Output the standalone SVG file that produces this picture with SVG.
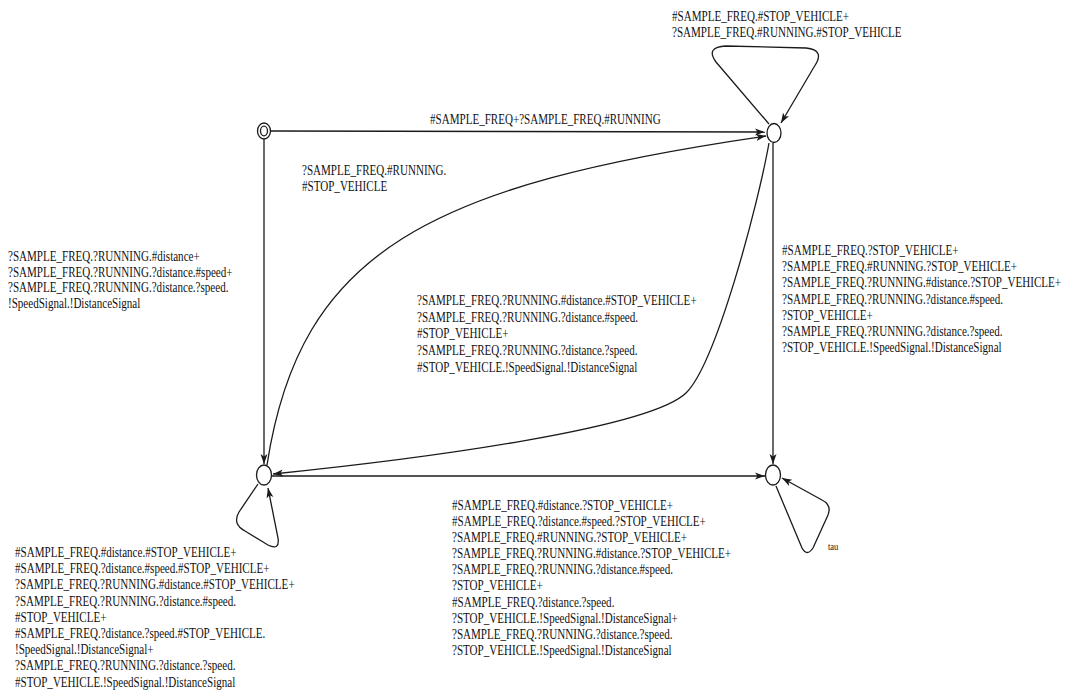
<svg xmlns="http://www.w3.org/2000/svg" width="1068" height="692" viewBox="0 0 1068 692">
<style>
.bg{fill:#ffffff}
.st{fill:#ffffff;stroke:#1a1a1a;stroke-width:1.3}
.e{fill:none;stroke:#1a1a1a;stroke-width:1.3}
.a{marker-end:url(#arr)}
.lbl{font-family:"Liberation Serif","Times New Roman",serif;font-size:14px;fill:#111}
.tau{font-family:"Liberation Serif","Times New Roman",serif;font-size:10px;fill:#111}
</style>
<defs>
<marker id="arr" markerUnits="userSpaceOnUse" markerWidth="12" markerHeight="8" refX="10" refY="4" orient="auto">
<path d="M0,0.5 L10,4 L0,7.5 L2.5,4 z" fill="#1a1a1a"/>
</marker>
</defs>
<rect class="bg" x="0" y="0" width="1068" height="692"/>
<g id="connectors">
<line class="e a" x1="271" y1="131" x2="765" y2="132"/>
<line class="e a" x1="264" y1="139" x2="264" y2="464"/>
<path class="e a" d="M267,465 C300,250 430,185 766,136"/>
<path class="e a" d="M769,143 C758,205 716,364 686,393 C650,428 430,458 273,474"/>
<line class="e a" x1="773" y1="143" x2="773" y2="464"/>
<line class="e a" x1="272" y1="476" x2="765" y2="476"/>
<path class="e a" d="M769,124 L716,62 Q705,47 726,46 L806,48 Q826,50 814,67 L781,123"/>
<path class="e a" d="M258,484 L239,512 Q232,524 245,531 L268,545 Q280,551 278,538 L268,488"/>
<path class="e a" d="M776,486 L802,548 Q807,557 813,548 L828,515 Q832,505 822,500 L782,478"/>
</g>
<g id="node-init">
<ellipse class="st" cx="264" cy="131" rx="6.5" ry="8"/>
<ellipse class="st" cx="264" cy="131" rx="3.5" ry="4.8"/>
</g>
<g id="node-tr"><ellipse class="st" cx="774" cy="133" rx="7" ry="9.5"/></g>
<g id="node-bl"><ellipse class="st" cx="264" cy="475" rx="7.5" ry="10"/></g>
<g id="node-br"><ellipse class="st" cx="773" cy="475" rx="7.5" ry="10"/></g>
<g id="labels">
<text class="lbl" transform="translate(672,21) scale(0.79,1)"><tspan x="0" y="0">#SAMPLE_FREQ.#STOP_VEHICLE+</tspan><tspan x="0" dy="16">?SAMPLE_FREQ.#RUNNING.#STOP_VEHICLE</tspan></text>
<text class="lbl" transform="translate(430,124) scale(0.79,1)"><tspan x="0" y="0">#SAMPLE_FREQ+?SAMPLE_FREQ.#RUNNING</tspan></text>
<text class="lbl" transform="translate(302,175) scale(0.79,1)"><tspan x="0" y="0">?SAMPLE_FREQ.#RUNNING.</tspan><tspan x="0" dy="16">#STOP_VEHICLE</tspan></text>
<text class="lbl" transform="translate(8,261) scale(0.79,1)"><tspan x="0" y="0">?SAMPLE_FREQ.?RUNNING.#distance+</tspan><tspan x="0" dy="15.7">?SAMPLE_FREQ.?RUNNING.?distance.#speed+</tspan><tspan x="0" dy="15.7">?SAMPLE_FREQ.?RUNNING.?distance.?speed.</tspan><tspan x="0" dy="15.7">!SpeedSignal.!DistanceSignal</tspan></text>
<text class="lbl" transform="translate(417,305) scale(0.79,1)"><tspan x="0" y="0">?SAMPLE_FREQ.?RUNNING.#distance.#STOP_VEHICLE+</tspan><tspan x="0" dy="16.7">?SAMPLE_FREQ.?RUNNING.?distance.#speed.</tspan><tspan x="0" dy="16.7">#STOP_VEHICLE+</tspan><tspan x="0" dy="16.7">?SAMPLE_FREQ.?RUNNING.?distance.?speed.</tspan><tspan x="0" dy="16.7">#STOP_VEHICLE.!SpeedSignal.!DistanceSignal</tspan></text>
<text class="lbl" transform="translate(782,255) scale(0.79,1)"><tspan x="0" y="0">#SAMPLE_FREQ.?STOP_VEHICLE+</tspan><tspan x="0" dy="16.2">?SAMPLE_FREQ.#RUNNING.?STOP_VEHICLE+</tspan><tspan x="0" dy="16.2">?SAMPLE_FREQ.?RUNNING.#distance.?STOP_VEHICLE+</tspan><tspan x="0" dy="16.2">?SAMPLE_FREQ.?RUNNING.?distance.#speed.</tspan><tspan x="0" dy="16.2">?STOP_VEHICLE+</tspan><tspan x="0" dy="16.2">?SAMPLE_FREQ.?RUNNING.?distance.?speed.</tspan><tspan x="0" dy="16.2">?STOP_VEHICLE.!SpeedSignal.!DistanceSignal</tspan></text>
<text class="lbl" transform="translate(452,510) scale(0.79,1)"><tspan x="0" y="0">#SAMPLE_FREQ.#distance.?STOP_VEHICLE+</tspan><tspan x="0" dy="16.1">#SAMPLE_FREQ.?distance.#speed.?STOP_VEHICLE+</tspan><tspan x="0" dy="16.1">?SAMPLE_FREQ.#RUNNING.?STOP_VEHICLE+</tspan><tspan x="0" dy="16.1">?SAMPLE_FREQ.?RUNNING.#distance.?STOP_VEHICLE+</tspan><tspan x="0" dy="16.1">?SAMPLE_FREQ.?RUNNING.?distance.#speed.</tspan><tspan x="0" dy="16.1">?STOP_VEHICLE+</tspan><tspan x="0" dy="16.1">#SAMPLE_FREQ.?distance.?speed.</tspan><tspan x="0" dy="16.1">?STOP_VEHICLE.!SpeedSignal.!DistanceSignal+</tspan><tspan x="0" dy="16.1">?SAMPLE_FREQ.?RUNNING.?distance.?speed.</tspan><tspan x="0" dy="16.1">?STOP_VEHICLE.!SpeedSignal.!DistanceSignal</tspan></text>
<text class="lbl" transform="translate(15,557) scale(0.79,1)"><tspan x="0" y="0">#SAMPLE_FREQ.#distance.#STOP_VEHICLE+</tspan><tspan x="0" dy="16.2">#SAMPLE_FREQ.?distance.#speed.#STOP_VEHICLE+</tspan><tspan x="0" dy="16.2">?SAMPLE_FREQ.?RUNNING.#distance.#STOP_VEHICLE+</tspan><tspan x="0" dy="16.2">?SAMPLE_FREQ.?RUNNING.?distance.#speed.</tspan><tspan x="0" dy="16.2">#STOP_VEHICLE+</tspan><tspan x="0" dy="16.2">#SAMPLE_FREQ.?distance.?speed.#STOP_VEHICLE.</tspan><tspan x="0" dy="16.2">!SpeedSignal.!DistanceSignal+</tspan><tspan x="0" dy="16.2">?SAMPLE_FREQ.?RUNNING.?distance.?speed.</tspan><tspan x="0" dy="16.2">#STOP_VEHICLE.!SpeedSignal.!DistanceSignal</tspan></text>
<text class="tau" transform="translate(828,550) scale(0.85,1)">tau</text>
</g>
</svg>
